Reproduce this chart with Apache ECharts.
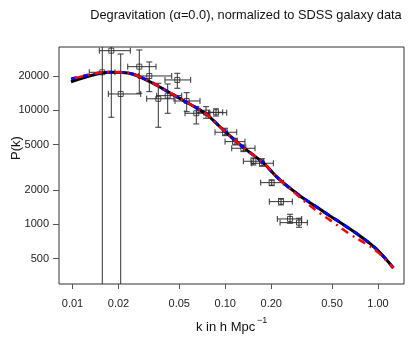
<!DOCTYPE html>
<html>
<head>
<meta charset="utf-8">
<script src="https://cdn.jsdelivr.net/npm/echarts@6/dist/echarts.min.js"></script>
<style>
html, body { margin: 0; padding: 0; background: #fff; }
#main { width: 415px; height: 356px; }
</style>
</head>
<body>
<div id="main"></div>
<script>
// model curves (k in h/Mpc, P(k))
var curveK = [0.00978, 0.01226, 0.01553, 0.01806, 0.0211, 0.025, 0.03216, 0.04137, 0.05313, 0.06502, 0.0756, 0.0971, 0.1313, 0.1775, 0.2225, 0.3087, 0.397, 0.4851, 0.623, 0.7624, 0.9806, 1.2596]
var blackP = [17800, 19600, 21240, 21540, 21460, 20700, 17800, 14770, 12190, 10470, 9190, 6720, 4718, 3449, 2522, 1771, 1416, 1183, 950, 789, 601, 413]
var blueP = [18800, 20200, 21400, 21540, 21460, 20700, 17800, 14770, 12190, 10470, 9190, 6720, 4718, 3449, 2522, 1771, 1416, 1183, 950, 789, 601, 413]
var redK = [0.00978, 0.01226, 0.01553, 0.01806, 0.0211, 0.025, 0.03216, 0.04137, 0.05313, 0.06502, 0.0756, 0.0971, 0.1313, 0.1775, 0.2225, 0.254, 0.3087, 0.397, 0.523, 0.656, 0.843, 1.0, 1.2596]
var redP = [18800, 20200, 21400, 21540, 21460, 20700, 17800, 14770, 12190, 10470, 9190, 6720, 4718, 3449, 2515, 2160, 1715, 1310, 1012, 817, 666, 566, 411]

// SDSS galaxy points with error bars
var ptK   = [0.01567, 0.01795, 0.02068, 0.02737, 0.03183, 0.03645, 0.04199, 0.04855, 0.05592, 0.06463, 0.07482, 0.08699, 0.09963, 0.1158, 0.1313, 0.1527, 0.174, 0.2013, 0.2317, 0.2654, 0.3039]
var ptP   = [21540, 33330, 13900, 24130, 20000, 12615, 13430, 18450, 12066, 9412, 9527, 9604, 6412, 5305, 4642, 3569, 3428, 2317, 1579, 1113, 1033]
var ptKLo = [0.01288, 0.01498, 0.01716, 0.02299, 0.02697, 0.0306, 0.03558, 0.04031, 0.04688, 0.05451, 0.06502, 0.0785, 0.08568, 0.09963, 0.1102, 0.1313, 0.149, 0.1706, 0.1943, 0.2192, 0.2284]
var ptKHi = [0.01897, 0.0239, 0.02796, 0.03521, 0.04461, 0.04619, 0.05186, 0.05939, 0.06834, 0.07948, 0.1022, 0.0962, 0.1189, 0.1346, 0.1566, 0.1775, 0.2064, 0.2399, 0.2748, 0.3166, 0.3445]
var ptPLo = [60, 8680, 60, 14100, 14560, 7095, 9412, 15600, 9721, 7585, 8508, 8900, 5987, 4962, 4334, 3313, 3230, 2181, 1477, 1020, 941]
var ptPHi = [45000, 58000, 31180, 33810, 26530, 17250, 17010, 21110, 14270, 10755, 10755, 10300, 6952, 5680, 4962, 3815, 3750, 2447, 1677, 1224, 1129]

var xTicks = [0.01, 0.02, 0.05, 0.1, 0.2, 0.5, 1]
var yTicks = [500, 1000, 2000, 5000, 10000, 20000]

var font = 'Liberation Sans, Arial, Helvetica, sans-serif'
var lg = function (v) { return Math.log10(v) }

function pairs(ks, ps) {
    return ks.map(function (k, i) { return [lg(k), lg(ps[i])] })
}

var barData = ptK.map(function (k, i) {
    return [lg(k), lg(ptP[i]), lg(ptKLo[i]), lg(ptKHi[i]), lg(ptPLo[i]), lg(ptPHi[i])]
})

function renderBar(params, api) {
    var c = api.coord([api.value(0), api.value(1)])
    var l = api.coord([api.value(2), api.value(1)])
    var r = api.coord([api.value(3), api.value(1)])
    var lo = api.coord([api.value(0), api.value(4)])
    var hi = api.coord([api.value(0), api.value(5)])
    var cap = 3
    var st = {stroke: '#333', lineWidth: 1}
    var seg = function (x1, y1, x2, y2) {
        return {type: 'line', shape: {x1: x1, y1: y1, x2: x2, y2: y2}, style: st}
    }
    return {
        type: 'group',
        children: [
            seg(l[0], c[1], r[0], c[1]),
            seg(l[0], c[1] - cap, l[0], c[1] + cap),
            seg(r[0], c[1] - cap, r[0], c[1] + cap),
            seg(c[0], lo[1], c[0], hi[1]),
            seg(c[0] - cap, lo[1], c[0] + cap, lo[1]),
            seg(c[0] - cap, hi[1], c[0] + cap, hi[1])
        ]
    }
}

var myChart = echarts.init(document.getElementById('main'))
var option = {
    animation: false,
    backgroundColor: '#fff',
    grid: {
        left: 59, top: 47, right: 11, bottom: 72,
        show: true, borderColor: '#333', borderWidth: 1
    },
    xAxis: {
        type: 'value',
        min: lg(0.00816),
        max: lg(1.479),
        axisLine: {show: false, onZero: false},
        splitLine: {show: false},
        axisTick: {show: true, length: 5, inside: false, customValues: xTicks.map(lg), lineStyle: {color: '#555'}},
        axisLabel: {
            customValues: xTicks.map(lg),
            margin: 14,
            fontSize: 11,
            fontFamily: font,
            color: '#222',
            formatter: function (v) { return Math.pow(10, v).toFixed(2) }
        }
    },
    yAxis: {
        type: 'value',
        min: lg(299),
        max: lg(35900),
        axisLine: {show: false, onZero: false},
        splitLine: {show: false},
        axisTick: {show: true, length: 6, inside: false, customValues: yTicks.map(lg), lineStyle: {color: '#555'}},
        axisLabel: {
            customValues: yTicks.map(lg),
            margin: 10,
            fontSize: 11,
            fontFamily: font,
            color: '#222',
            formatter: function (v) { return String(Math.round(Math.pow(10, v))) }
        }
    },
    graphic: [
        {type: 'text', x: 246, y: 15, style: {text: 'Degravitation (\u03b1=0.0), normalized to SDSS galaxy data', font: '12.8px ' + font, fill: '#111', align: 'center', verticalAlign: 'middle'}},
        {type: 'text', x: 196, y: 327, style: {text: 'k in h Mpc', font: '13px ' + font, fill: '#111', align: 'left', verticalAlign: 'middle'}},
        {type: 'text', x: 257, y: 321, style: {text: '\u22121', font: '9px ' + font, fill: '#111', align: 'left', verticalAlign: 'middle'}},
        {type: 'text', x: 16, y: 148, rotation: Math.PI / 2, style: {text: 'P(k)', font: '13px ' + font, fill: '#111', align: 'center', verticalAlign: 'middle'}}
    ],
    series: [
        {
            type: 'custom',
            clip: true,
            renderItem: renderBar,
            encode: {x: [0, 2, 3], y: [1, 4, 5]},
            data: barData,
            z: 2
        },
        {
            type: 'scatter',
            symbol: 'rect',
            symbolSize: 5,
            itemStyle: {color: 'rgba(0,0,0,0)', borderColor: '#222', borderWidth: 1},
            data: pairs(ptK, ptP),
            z: 3
        },
        {
            type: 'line',
            data: pairs(curveK, blackP),
            showSymbol: false,
            smooth: 0.4,
            lineStyle: {color: '#000', width: 3},
            z: 4
        },
        {
            type: 'line',
            data: pairs(curveK, blueP),
            showSymbol: false,
            smooth: 0.4,
            lineStyle: {color: '#0000ff', width: 3, type: [6, 6]},
            z: 5
        },
        {
            type: 'line',
            data: pairs(redK, redP),
            showSymbol: false,
            smooth: 0.4,
            lineStyle: {color: '#ff0000', width: 2.5, type: [2, 5, 8, 5], dashOffset: 3},
            z: 6
        }
    ]
}
myChart.setOption(option)
</script>
</body>
</html>
